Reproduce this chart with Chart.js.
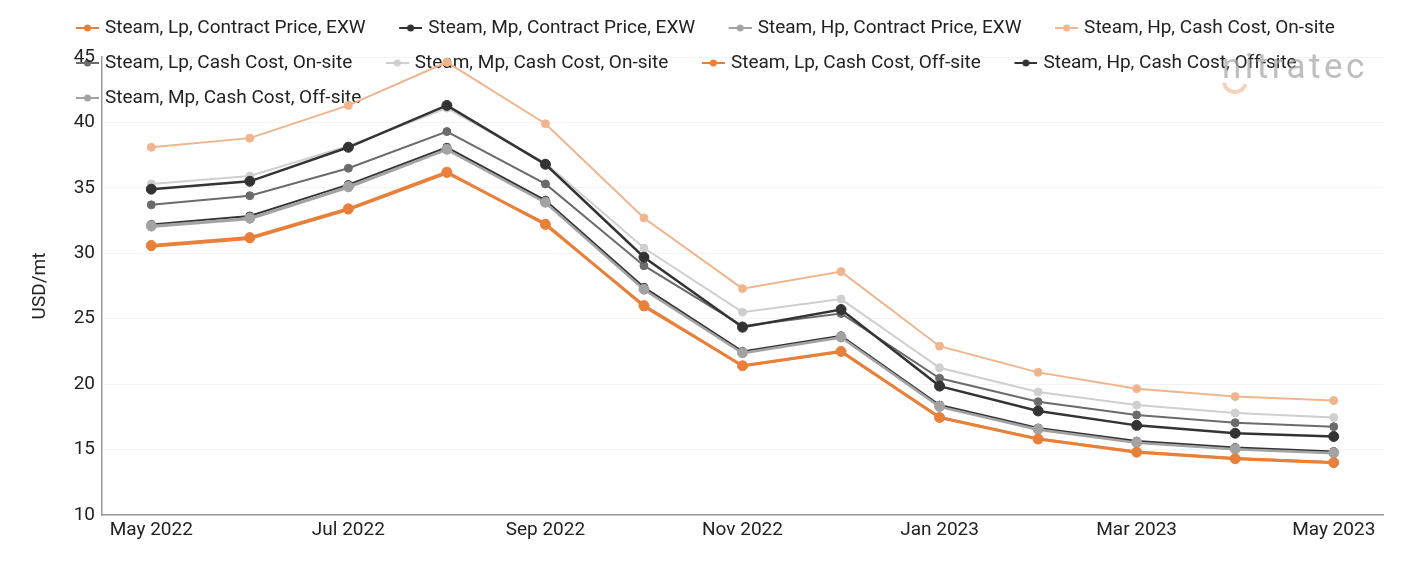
<!DOCTYPE html>
<html>
<head>
<meta charset="utf-8">
<script src="https://cdn.jsdelivr.net/npm/chart.js@4/dist/chart.umd.min.js"></script>
<style>
  html, body { margin: 0; padding: 0; background: #fff; }
  #wrap { width: 1401px; height: 561px; position: relative; }
</style>
</head>
<body>
<div id="wrap"><canvas id="steamChart"></canvas></div>
<script>
var months = ['May 2022', 'Jun 2022', 'Jul 2022', 'Aug 2022', 'Sep 2022', 'Oct 2022', 'Nov 2022',
    'Dec 2022', 'Jan 2023', 'Feb 2023', 'Mar 2023', 'Apr 2023', 'May 2023'];

var lpContractExw = [30.6, 31.2, 33.4, 36.2, 32.2, 26.0, 21.4, 22.5, 17.45, 15.8, 14.8, 14.3, 14.0];
var mpContractExw = [34.9, 35.5, 38.1, 41.3, 36.8, 29.7, 24.35, 25.7, 19.85, 17.95, 16.85, 16.25, 16.0];
var hpContractExw = [32.1, 32.7, 35.1, 37.95, 33.9, 27.25, 22.4, 23.6, 18.3, 16.55, 15.55, 15.05, 14.75];
var hpCashOnsite = [38.1, 38.8, 41.3, 44.6, 39.9, 32.7, 27.3, 28.6, 22.9, 20.9, 19.65, 19.05, 18.75];
var lpCashOnsite = [33.7, 34.4, 36.5, 39.3, 35.3, 29.05, 24.45, 25.4, 20.45, 18.65, 17.65, 17.05, 16.75];
var mpCashOnsite = [35.3, 35.9, 38.2, 41.1, 36.9, 30.4, 25.5, 26.5, 21.25, 19.4, 18.4, 17.8, 17.45];
var lpCashOffsite = [30.5, 31.1, 33.3, 36.1, 32.3, 25.9, 21.4, 22.45, 17.5, 15.85, 14.85, 14.35, 14.05];
var hpCashOffsite = [32.2, 32.85, 35.25, 38.1, 34.05, 27.4, 22.5, 23.7, 18.4, 16.65, 15.65, 15.15, 14.85];
var mpCashOffsite = [32.0, 32.6, 35.0, 37.9, 33.85, 27.2, 22.35, 23.55, 18.25, 16.5, 15.5, 15.0, 14.7];

var yTicks = [10, 15, 20, 25, 30, 35, 40, 45];

var orange = '#e8803a';
var lightOrange = '#f0b58c';
var dark = '#333333';
var midGrey = '#6b6b6b';
var grey = '#a3a3a3';
var lightGrey = '#cfcfcf';

Chart.defaults.font.family = 'Roboto, "Noto Sans", sans-serif';
Chart.defaults.font.size = 19;
Chart.defaults.color = '#222';

function series(label, data, color, width, radius) {
    return {
        label: label,
        data: data,
        borderColor: color,
        backgroundColor: color,
        pointBackgroundColor: color,
        pointBorderColor: color,
        borderWidth: width,
        pointRadius: radius,
        pointHoverRadius: radius,
        pointBorderWidth: 1,
        tension: 0
    };
}

// legend marker: line with a dot; left part is empty so the gap between items gets wider
function legendMarker(color) {
    var c = document.createElement('canvas');
    c.width = 44;
    c.height = 12;
    var ctx = c.getContext('2d');
    ctx.strokeStyle = color;
    ctx.lineWidth = 2;
    ctx.beginPath();
    ctx.moveTo(21, 6);
    ctx.lineTo(44, 6);
    ctx.stroke();
    ctx.fillStyle = color;
    ctx.beginPath();
    ctx.arc(32.5, 6, 3.5, 0, Math.PI * 2);
    ctx.fill();
    return c;
}

// legend overlaps the plot area like in the original
var legendOverlap = {
    id: 'legendOverlap',
    beforeLayout: function (chart) {
        var legend = chart.legend;
        if (legend && !legend._patched) {
            var fit = legend.fit;
            legend.fit = function () {
                fit.call(this);
                this.height = 57;
            };
            legend._patched = true;
        }
    },
    afterLayout: function (chart) {
        var legend = chart.legend;
        legend.left += 16.5;
        legend.right += 16.5;
        legend.top += 2.5;
        legend.bottom = legend.top + 130;
        legend.height = 130;
    }
};

// nitratec watermark
var watermark = {
    id: 'watermark',
    afterDraw: function (chart) {
        var ctx = chart.ctx;
        ctx.save();
        ctx.globalAlpha = 0.75;
        ctx.fillStyle = '#a8a8a8';
        ctx.font = '400 35px Roboto, sans-serif';
        ctx.letterSpacing = '3.5px';
        ctx.textBaseline = 'alphabetic';
        ctx.fillText('nitratec', 1222, 78);
        ctx.strokeStyle = '#efc4a2';
        ctx.lineWidth = 4;
        ctx.beginPath();
        ctx.arc(1235, 81, 11, 0.1 * Math.PI, 0.95 * Math.PI);
        ctx.stroke();
        ctx.restore();
    }
};

var ctxSteam = document.getElementById('steamChart').getContext('2d');
var steamChart = new Chart(ctxSteam, {
    type: 'line',
    data: {
        labels: months,
        datasets: [
            series('Steam, Lp, Contract Price, EXW', lpContractExw, orange, 3, 5),
            series('Steam, Mp, Contract Price, EXW', mpContractExw, dark, 2.5, 5),
            series('Steam, Hp, Contract Price, EXW', hpContractExw, grey, 2, 5),
            series('Steam, Hp, Cash Cost, On-site', hpCashOnsite, lightOrange, 2, 4),
            series('Steam, Lp, Cash Cost, On-site', lpCashOnsite, midGrey, 2, 4),
            series('Steam, Mp, Cash Cost, On-site', mpCashOnsite, lightGrey, 2, 4),
            series('Steam, Lp, Cash Cost, Off-site', lpCashOffsite, orange, 2, 4),
            series('Steam, Hp, Cash Cost, Off-site', hpCashOffsite, dark, 2, 4),
            series('Steam, Mp, Cash Cost, Off-site', mpCashOffsite, grey, 2, 4)
        ]
    },
    options: {
        responsive: true,
        maintainAspectRatio: false,
        animation: false,
        layout: {
            padding: { left: 26, right: 18, top: 0, bottom: 20 }
        },
        plugins: {
            legend: {
                position: 'top',
                align: 'start',
                labels: {
                    usePointStyle: true,
                    pointStyleWidth: 37,
                    padding: 16,
                    color: '#222',
                    font: { size: 19 },
                    generateLabels: function (chart) {
                        var items = Chart.defaults.plugins.legend.labels.generateLabels(chart);
                        items.forEach(function (item) {
                            var ds = chart.data.datasets[item.datasetIndex];
                            item.pointStyle = legendMarker(ds.borderColor);
                        });
                        return items;
                    }
                }
            },
            tooltip: { enabled: false }
        },
        scales: {
            x: {
                offset: true,
                grid: { display: false, drawTicks: false },
                border: { display: true, color: '#9a9a9a', width: 1.5 },
                ticks: {
                    autoSkip: false,
                    maxRotation: 0,
                    padding: 4,
                    color: '#222',
                    callback: function (value, index) {
                        return index % 2 === 0 ? this.getLabelForValue(value) : '';
                    }
                },
                afterFit: function (scale) { scale.height = 26; }
            },
            y: {
                min: 10,
                max: 45,
                afterBuildTicks: function (scale) {
                    scale.ticks = yTicks.map(function (v) { return { value: v }; });
                },
                grid: { color: '#f3f3f3', drawTicks: false },
                border: { display: true, color: '#9a9a9a', width: 1.5 },
                ticks: { padding: 7, color: '#222' },
                title: {
                    display: true,
                    text: 'USD/mt',
                    color: '#222',
                    font: { size: 19 },
                    padding: { top: 3, bottom: 0 }
                },
                afterFit: function (scale) { scale.width = 76; }
            }
        }
    },
    plugins: [legendOverlap, watermark]
});
</script>
</body>
</html>
